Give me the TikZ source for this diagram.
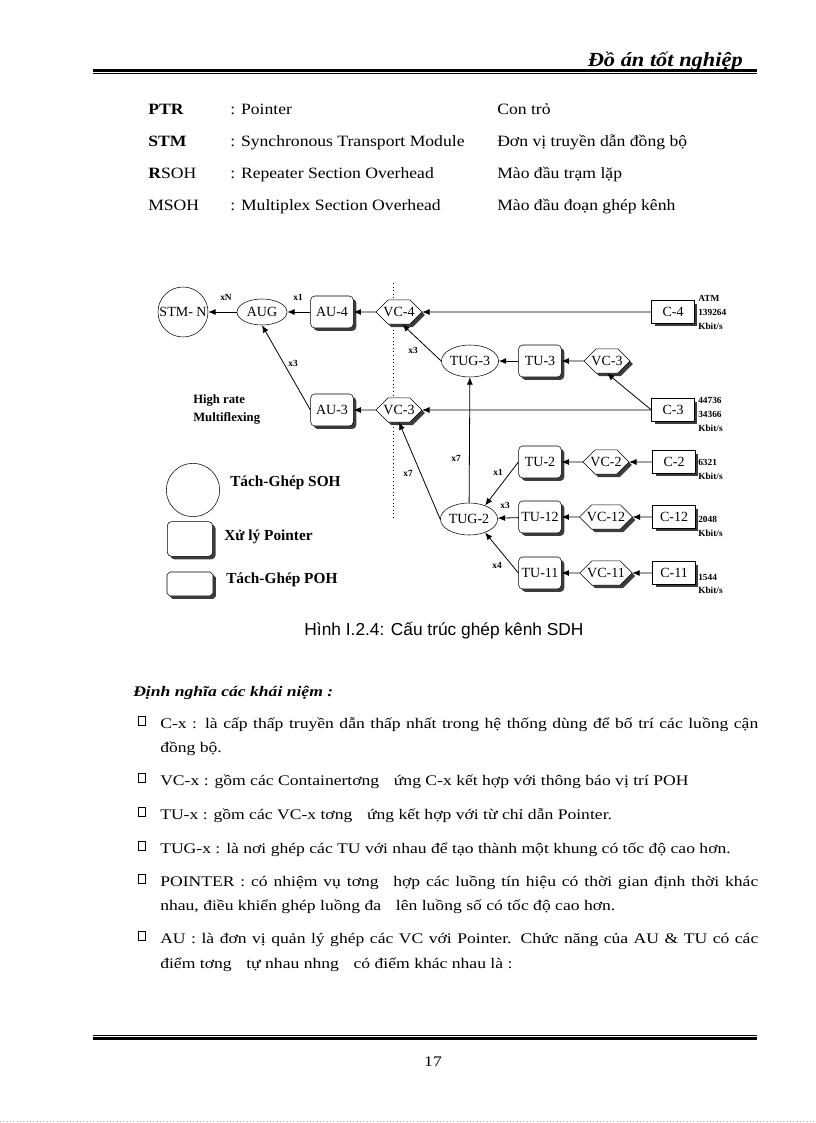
\documentclass[tikz,border=0pt]{standalone}
\usepackage{fontspec}
\setmainfont{Liberation Serif}
\newfontfamily\capfont{Liberation Sans}
\newfontfamily\wideserif[FakeStretch=1.12]{Liberation Serif}
\newfontfamily\bodyserif[FakeStretch=1.2]{Liberation Serif}
\usetikzlibrary{arrows.meta,positioning,shapes.geometric,shapes.misc,shadows}
\definecolor{ShadowGray}{RGB}{60,60,60}
\definecolor{EdgeGray}{RGB}{170,170,170}
\newcommand\txtfont{\bodyserif\fontsize{11}{13}\selectfont}
\newcommand\rowfont{\wideserif\fontsize{11.8}{14}\selectfont}
\newcommand\tagfont{\bfseries\fontsize{7}{8}\selectfont}
\newcommand\legfont{\bfseries\fontsize{11.5}{13}\selectfont}

\begin{document}
\begin{tikzpicture}[x=0.75pt,y=-0.75pt,>={Latex[length=5.5pt,width=4.5pt]},
    every node/.style={inner sep=0pt},
    link/.style={->,line width=0.6pt},
    boxtxt/.style={font=\fontsize{10.5}{12}\selectfont},
    shade/.style={drop shadow={shadow xshift=2.2pt,shadow yshift=-2.2pt,fill=ShadowGray,opacity=1}},
    cbox/.style={boxtxt,draw,fill=white,shade,minimum width=32pt,minimum height=17pt},
    ubox/.style={boxtxt,draw,fill=white,shade,rounded corners=3pt,minimum width=32pt,minimum height=24pt},
    vcbox/.style={boxtxt,draw,fill=white,shade,chamfered rectangle,
      chamfered rectangle xsep=4.5pt,chamfered rectangle ysep=4.5pt,inner xsep=1pt,inner ysep=1pt,
      minimum width=32pt,minimum height=16pt},
    oval/.style={boxtxt,draw,fill=white,ellipse},
    tag/.style={font=\tagfont},
    rate/.style={font=\tagfont,anchor=west}]
  \useasboundingbox (0,0) rectangle (816,1123);
  \fill[white] (0,0) rectangle (816,1123);

  % page header
  \node[anchor=base east,font=\wideserif\fontsize{15}{17}\selectfont\bfseries\itshape] (head) at (743,67) {Đồ án tốt nghiệp};
  \draw[line width=1.6pt] (93,70.5) -- (757,70.5);
  \draw[line width=0.6pt] (93,73.5) -- (757,73.5);

  % abbreviations
  \node[anchor=base west,font=\rowfont\bfseries] (ab1) at (148,115) {PTR};
  \node[anchor=base west,font=\rowfont\bfseries] (ab2) at (148,147) {STM};
  \node[anchor=base west,font=\rowfont] (ab3) at (148,179) {\textbf{R}SOH};
  \node[anchor=base west,font=\rowfont] (ab4) at (148,210) {MSOH};
  \node[anchor=base west,font=\rowfont] (en1) at (230,115) {: Pointer};
  \node[anchor=base west,font=\rowfont] (en2) at (230,147) {: Synchronous Transport Module};
  \node[anchor=base west,font=\rowfont] (en3) at (230,179) {: Repeater Section Overhead};
  \node[anchor=base west,font=\rowfont] (en4) at (230,210) {: Multiplex Section Overhead};
  \node[anchor=base west,font=\rowfont] (vn1) at (497,115) {Con trỏ};
  \node[anchor=base west,font=\rowfont] (vn2) at (497,147) {Đơn vị truyền dẫn đồng bộ};
  \node[anchor=base west,font=\rowfont] (vn3) at (497,179) {Mào đầu trạm lặp};
  \node[anchor=base west,font=\rowfont] (vn4) at (497,210) {Mào đầu đoạn ghép kênh};

  % multiplexing structure
  \coordinate (dtop) at (393,283);
  \coordinate (dbot) at (393,520);
  \draw[dotted,line width=0.7pt] (dtop) -- (dbot);

  \node[draw,circle,minimum size=37.5pt,boxtxt] (stm) at (183,312) {STM- N};
  \node[oval,minimum width=37.5pt,minimum height=19.5pt] (aug) at (262,312) {AUG};
  \node[ubox] (au4) at (332,312) {AU-4};
  \node[vcbox] (vc4) at (399,312) {VC-4};
  \node[cbox] (c4) at (673,312) {C-4};
  \node[oval,minimum width=39pt,minimum height=24pt] (tug3) at (470,361) {TUG-3};
  \node[ubox] (tu3) at (540,361) {TU-3};
  \node[vcbox] (vc3a) at (607,361) {VC-3};
  \node[ubox] (au3) at (332,410) {AU-3};
  \node[vcbox] (vc3) at (399,410) {VC-3};
  \node[cbox] (c3) at (673,410) {C-3};
  \node[oval,minimum width=37.5pt,minimum height=24pt] (tug2) at (469,519) {TUG-2};
  \node[ubox] (tu2) at (540,462) {TU-2};
  \node[vcbox] (vc2) at (606,462) {VC-2};
  \node[cbox] (c2) at (674,462) {C-2};
  \node[ubox] (tu12) at (540,517) {TU-12};
  \node[vcbox] (vc12) at (606,517) {VC-12};
  \node[cbox] (c12) at (674,517) {C-12};
  \node[ubox] (tu11) at (540,573) {TU-11};
  \node[vcbox] (vc11) at (606,573) {VC-11};
  \node[cbox] (c11) at (674,573) {C-11};

  \draw[link] (aug) -- (stm);
  \draw[link] (au4) -- (aug);
  \draw[link] (vc4) -- (au4);
  \draw[link] (c4) -- (vc4);
  \draw[link] (tug3.west) -- (vc4.-75);
  \draw[link] (tu3) -- (tug3);
  \draw[link] (vc3a) -- (tu3);
  \draw[link] (c3.west) -- (vc3a.south);
  \draw[link] (c3) -- (vc3);
  \draw[link] (vc3) -- (au3);
  \draw[link] (au3.west) -- (aug.south);
  \draw[link] (tug2.west) -- (vc3.south);
  \draw[link] (tug2) -- (tug3);
  \draw[link] (tu2.west) -- (tug2.40);
  \draw[link] (tu12) -- (tug2);
  \draw[link] (tu11.west) -- (tug2.-40);
  \draw[link] (vc2) -- (tu2);
  \draw[link] (c2) -- (vc2);
  \draw[link] (vc12) -- (tu12);
  \draw[link] (c12) -- (vc12);
  \draw[link] (vc11) -- (tu11);
  \draw[link] (c11) -- (vc11);

  % multiplicity marks
  \node[tag] (mN) at (226,297) {xN};
  \node[tag] (m1) at (298,297) {x1};
  \node[tag] (m3a) at (293,363) {x3};
  \node[tag] (m3b) at (413,350) {x3};
  \node[tag] (m7a) at (456,458) {x7};
  \node[tag] (m7b) at (408,473) {x7};
  \node[tag] (m1b) at (498,472) {x1};
  \node[tag] (m3c) at (505,505) {x3};
  \node[tag] (m4) at (497,565) {x4};

  % bit rates
  \node[rate] (r4a) at (698,298) {ATM};
  \node[rate] (r4b) at (698,312) {139264};
  \node[rate] (r4c) at (698,326) {Kbit/s};
  \node[rate] (r3a) at (698,400) {44736};
  \node[rate] (r3b) at (698,414) {34366};
  \node[rate] (r3c) at (698,428) {Kbit/s};
  \node[rate] (r2a) at (698,462) {6321};
  \node[rate] (r2b) at (698,476) {Kbit/s};
  \node[rate] (r12a) at (698,519) {2048};
  \node[rate] (r12b) at (698,533) {Kbit/s};
  \node[rate] (r11a) at (698,577) {1544};
  \node[rate] (r11b) at (698,590) {Kbit/s};

  \node[anchor=west,font=\bfseries\fontsize{9.5}{11}\selectfont] (hr1) at (193,401) {High rate};
  \node[anchor=west,font=\bfseries\fontsize{9.5}{11}\selectfont] (hr2) at (193,418) {Multiflexing};

  % legend
  \node[draw,circle,minimum size=40pt] (lsoh) at (193,490) {};
  \node[ubox,minimum width=34pt,minimum height=26pt] (lptr) at (190,539) {};
  \node[vcbox,minimum width=34.5pt,minimum height=18pt] (lpoh) at (190,584) {};
  \node[anchor=west,font=\legfont] (tsoh) at (230,483) {Tách-Ghép SOH};
  \node[anchor=west,font=\legfont] (tptr) at (224,537) {Xử lý Pointer};
  \node[anchor=west,font=\legfont] (tpoh) at (226,580) {Tách-Ghép POH};

  \node[font=\capfont\fontsize{13}{15}\selectfont] (cap) at (444,631) {Hình I.2.4: Cấu trúc ghép kênh SDH};

  % definitions
  \node[anchor=base west,font=\bodyserif\fontsize{11}{13}\selectfont\bfseries\itshape] (def) at (133,696) {Định nghĩa các khái niệm :};
  \foreach \y/\n in {721/1,778/2,812/3,846/4,879/5,936/6}
    \node[draw,line width=0.5pt,minimum width=5pt,minimum height=6.5pt] (sq\n) at (141.5,\y) {};
  \node[anchor=base west,font=\txtfont] (t1) at (160,728) {\makebox[448.5pt][s]{C-x : là cấp thấp truyền dẫn thấp nhất trong hệ thống dùng để bố trí các luồng cận}};
  \node[anchor=base west,font=\txtfont] (t1b) at (160,752) {đồng bộ.};
  \node[anchor=base west,font=\txtfont] (t2) at (160,785) {VC-x : gồm các Containertơng\hspace{1em}ứng C-x kết hợp với thông báo vị trí POH};
  \node[anchor=base west,font=\txtfont] (t3) at (160,819) {TU-x : gồm các VC-x tơng\hspace{1em}ứng kết hợp với từ chỉ dẫn Pointer.};
  \node[anchor=base west,font=\txtfont] (t4) at (160,853) {TUG-x : là nơi ghép các TU với nhau để tạo thành một khung có tốc độ cao hơn.};
  \node[anchor=base west,font=\txtfont] (t5) at (160,886) {\makebox[448.5pt][s]{POINTER : có nhiệm vụ tơng\hspace{1em}hợp các luồng tín hiệu có thời gian định thời khác}};
  \node[anchor=base west,font=\txtfont] (t5b) at (160,910) {nhau, điều khiển ghép luồng đa\hspace{1em}lên luồng số có tốc độ cao hơn.};
  \node[anchor=base west,font=\txtfont] (t6) at (160,943) {\makebox[448.5pt][s]{AU : là đơn vị quản lý ghép các VC với Pointer. Chức năng của AU \& TU có các}};
  \node[anchor=base west,font=\txtfont] (t6b) at (160,968) {điểm tơng\hspace{1em}tự nhau nhng\hspace{1em}có điểm khác nhau là :};

  % page footer
  \draw[line width=0.6pt] (93,1035.5) -- (757,1035.5);
  \draw[line width=1.6pt] (93,1038.5) -- (757,1038.5);
  \node[anchor=base,font=\txtfont] (pg) at (433,1066) {17};
  \draw[EdgeGray,dotted,line width=0.5pt] (0,1121) -- (816,1121);
\end{tikzpicture}
\end{document}
